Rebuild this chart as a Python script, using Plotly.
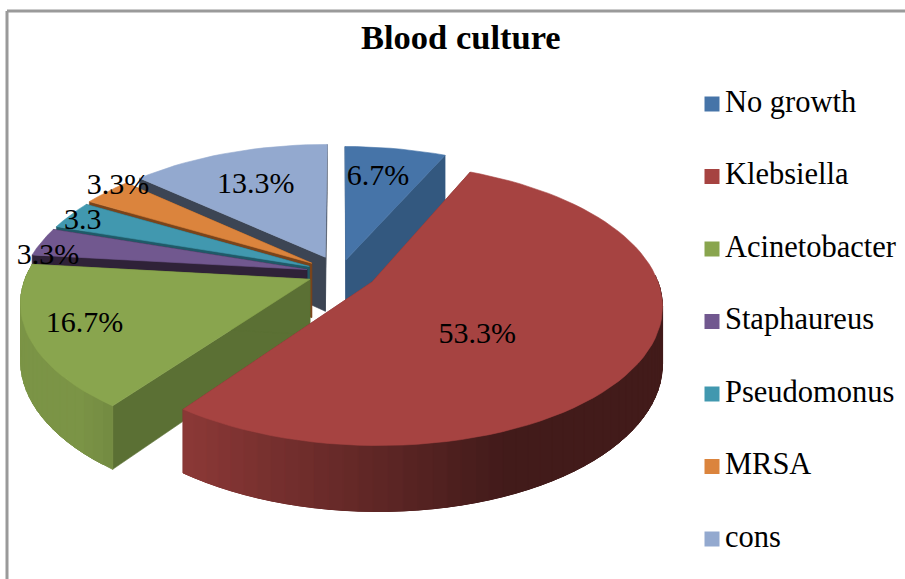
import math
import plotly.graph_objects as go

categories = ["No growth", "Klebsiella", "Acinetobacter", "Staphaureus", "Pseudomonus", "MRSA", "cons"]
values = [6.7, 53.3, 16.7, 3.3, 3.3, 3.3, 13.3]
value_labels = ["6.7%", "53.3%", "16.7%", "3.3%", "3.3", "3.3%", "13.3%"]
title = "Blood culture"

top_colors = ["#4674A8", "#A64341", "#89A54E", "#71588F", "#4198AF", "#DB843D", "#93A9CF"]
wall_colors = ["#33587F", "#7A302E", "#5B7034", "#2F2238", "#1F5A68", "#7A441B", "#3C4554"]
pulls = [0.10, 0.13, 0.115, 0.12, 0.12, 0.125, 0.13]
label_anchor = [(-1.5, .71), (17, .50), (1, .81), (-6.3, .94), (-1.5, .93), (3.5, 1.0), (-1, .66)]
draw_order = [6, 0, 5, 4, 3, 2, 1]

W, H = 905, 579
CX, CY, R, RY, D, DEPTH = 340, 273, 283, 135, 6.4, 55
FONT = "Liberation Serif"


def project(wx, wy, z=0.0):
    s = D / (D - wy)
    return CX + R * wx * s, CY + RY * wy * s + DEPTH * z * s


def unit(deg):
    a = math.radians(deg)
    return math.sin(a), -math.cos(a)


def shade(hex_color, f):
    r, g, b = (int(hex_color[i:i + 2], 16) for i in (1, 3, 5))
    return f"rgb({r * f:.0f},{g * f:.0f},{b * f:.0f})"


def poly(fig, pts, color, lw=0.6):
    xs = [p[0] for p in pts] + [pts[0][0]]
    ys = [p[1] for p in pts] + [pts[0][1]]
    fig.add_trace(go.Scatter(x=xs, y=ys, mode="lines", fill="toself", fillcolor=color,
                             line=dict(color=color, width=lw), hoverinfo="skip", showlegend=False))


total = sum(values)
starts, acc = [], 0.0
for v in values:
    starts.append(acc / total * 360)
    acc += v
spans = [v / total * 360 for v in values]

fig = go.Figure()
STEP = 2.5
for i in draw_order:
    a0, span = starts[i], spans[i]
    mid = a0 + span / 2
    mx, my = unit(mid)
    ox, oy = pulls[i] * mx, pulls[i] * my
    n = max(2, int(span / STEP))
    angles = [a0 + span * k / n for k in range(n + 1)]
    rim = [(ox + unit(a)[0], oy + unit(a)[1]) for a in angles]
    apex = (ox, oy)
    # radial walls
    for end in (rim[0], rim[-1]):
        poly(fig, [project(*apex), project(*end), project(*end, 1), project(*apex, 1)], wall_colors[i])
    # rim wall: only the part that faces the viewer, shaded by direction
    for k in range(n):
        ux, uy = unit((angles[k] + angles[k + 1]) / 2)
        if uy < -0.05:
            continue
        p, q = rim[k], rim[min(k + 2, n)]
        f = max(0.4, min(0.9, 0.57 - 0.46 * ux))
        poly(fig, [project(*p), project(*q), project(*q, 1), project(*p, 1)], shade(top_colors[i], f), 1)
    # top face
    poly(fig, [project(*apex)] + [project(*p) for p in rim], top_colors[i])

# value labels
lx, ly = [], []
for i in range(len(values)):
    mid = starts[i] + spans[i] / 2
    mx, my = unit(mid)
    d, r = label_anchor[i]
    ux, uy = unit(mid + d)
    x, y = project(pulls[i] * mx + r * ux, pulls[i] * my + r * uy)
    lx.append(x)
    ly.append(y)
fig.add_trace(go.Scatter(x=lx, y=ly, mode="text", text=value_labels, textposition="middle center",
                         textfont=dict(family=FONT, size=30, color="#000"), hoverinfo="skip", showlegend=False))

# legend column
LEG_X, LEG_Y, LEG_STEP = 712, 104, 72.5
fig.add_trace(go.Scatter(x=[LEG_X] * len(categories),
                         y=[LEG_Y + LEG_STEP * i for i in range(len(categories))],
                         mode="markers+text", text=["\u200a" + c for c in categories], textposition="middle right",
                         textfont=dict(family=FONT, size=30.5, color="#000"),
                         marker=dict(symbol="square", size=15, color=top_colors), hoverinfo="skip", showlegend=False))

# chart frame: only top and left edges are inside the picture
fig.add_shape(type="line", xref="x", yref="y", x0=7, x1=W, y0=11, y1=11, line=dict(color="#9a9a9a", width=3))
fig.add_shape(type="line", xref="x", yref="y", x0=7, x1=7, y0=11, y1=H, line=dict(color="#9a9a9a", width=3))
fig.add_annotation(text=f"<b>{title}</b>", x=461, y=37, xref="x", yref="y", showarrow=False,
                   font=dict(family=FONT, size=34.5, color="#000"))
fig.update_layout(width=W, height=H, margin=dict(l=0, r=0, t=0, b=0), paper_bgcolor="white",
                  plot_bgcolor="white", showlegend=False,
                  xaxis=dict(range=[0, W], visible=False, domain=[0, 1]),
                  yaxis=dict(range=[H, 0], visible=False, domain=[0, 1]))
fig.write_html("out.html", config={"displayModeBar": False},
               post_script="document.body.style.margin='0';document.documentElement.style.overflow='hidden';")
